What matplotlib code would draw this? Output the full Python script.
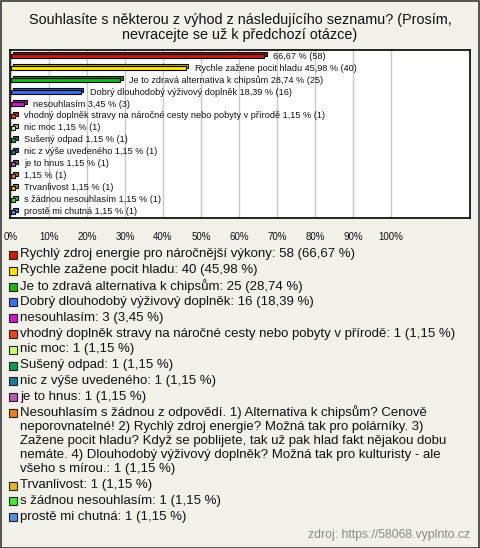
import textwrap
import matplotlib
matplotlib.use("Agg")
import matplotlib.pyplot as plt
from matplotlib.patches import Rectangle
import matplotlib.transforms as mtransforms
import matplotlib.colors as mcolors

plt.rcParams['font.family'] = ['Liberation Sans', 'DejaVu Sans']

title = "Souhlasíte s některou z výhod z následujícího seznamu? (Prosím,\nnevracejte se už k předchozí otázce)"
categories = [
    "Rychlý zdroj energie pro náročnější výkony",
    "Rychle zažene pocit hladu",
    "Je to zdravá alternativa k chipsům",
    "Dobrý dlouhodobý výživový doplněk",
    "nesouhlasím",
    "vhodný doplněk stravy na náročné cesty nebo pobyty v přírodě",
    "nic moc",
    "Sušený odpad",
    "nic z výše uvedeného",
    "je to hnus",
    "Nesouhlasím s žádnou z odpovědí. 1) Alternativa k chipsům? Cenově neporovnatelné! 2) Rychlý zdroj energie? Možná tak pro polárníky. 3) Zažene pocit hladu? Když se poblijete, tak už pak hlad fakt nějakou dobu nemáte. 4) Dlouhodobý výživový doplněk? Možná tak pro kulturisty - ale všeho s mírou.",
    "Trvanlivost",
    "s žádnou nesouhlasím",
    "prostě mi chutná",
]
counts = [58, 40, 25, 16, 3, 1, 1, 1, 1, 1, 1, 1, 1, 1]
percents = [66.67, 45.98, 28.74, 18.39, 3.45, 1.15, 1.15, 1.15, 1.15, 1.15, 1.15, 1.15, 1.15, 1.15]
colors = ["#c41e0c", "#ffe600", "#1eb41e", "#3c6ee6", "#c81ec8", "#e6461e",
          "#c8ff78", "#14965a", "#1e7896", "#b45ab4", "#e6821e", "#e6b41e",
          "#46e632", "#5a8cdc"]
xticks = [0, 10, 20, 30, 40, 50, 60, 70, 80, 90, 100]
source = "zdroj: https://58068.vyplnto.cz"

W, H = 480, 548
bg = "#f2f1e9"
fig = plt.figure(figsize=(W / 100, H / 100), dpi=100, facecolor=bg)
fig.patches.append(Rectangle((0.5 / W, 0.5 / H), 1 - 1.5 / W, 1 - 1.5 / H, transform=fig.transFigure,
                             fill=False, edgecolor="#3a3a3a", lw=1.2))

def fx(px):
    return px / W

def fy(py):
    return 1 - py / H

fig.text(0.5, fy(27.5), title, ha="center", va="center", fontsize=10.4, color="#111", linespacing=1.15)

ax = fig.add_axes([fx(10), fy(218), fx(460), 168 / H])
ax.set_facecolor("white")
n = len(categories)
ypos = list(range(n))
ax.set_xlim(-0.26, 120.8)
ax.set_ylim(n - 0.5, -0.5)

dark = [tuple(c * 0.78 for c in mcolors.to_rgb(c)) for c in colors]
off = mtransforms.offset_copy(ax.transData, fig=fig, x=2.5, y=2, units="dots")
ax.barh(ypos, percents, height=0.38, color=dark, edgecolor="black", linewidth=0.8,
        transform=off, zorder=3)
ax.barh(ypos, percents, height=0.38, color=colors, edgecolor="black", linewidth=0.8, zorder=4)

ax.set_xticks(xticks)
ax.set_xticklabels([f"{v}%" for v in xticks], fontsize=7, color="#111")
ax.tick_params(axis="x", length=0, pad=10)
ax.set_yticks([])
ax.grid(axis="x", color="#c8c8c8", lw=1, zorder=0)
ax.set_axisbelow(True)
for s in ax.spines.values():
    s.set_color("black")
    s.set_linewidth(1.2)

def fmt(v):
    return f"{v:.2f}".replace(".", ",")

renderer = fig.canvas.get_renderer()
ax_right = ax.get_window_extent(renderer).x1
for i, (cat, c, p) in enumerate(zip(categories, counts, percents)):
    full = f"{cat} {fmt(p)} % ({c})"
    t = ax.annotate(full, (p, i), xytext=(9, 0), textcoords="offset pixels",
                    va="center", ha="left", fontsize=6.6, color="#111", zorder=5)
    bb = t.get_window_extent(renderer)
    if bb.x1 > ax_right - 2:
        t.set_text(f"{fmt(p)} % ({c})")

# legend
y = 254.5
for cat, c, p, col in zip(categories, counts, percents, colors):
    text = f"{cat}: {c} ({fmt(p)} %)"
    lines = textwrap.wrap(text, 72)
    fig.patches.append(Rectangle((fx(9), fy(y + 4.5)), 8 / W, 8 / H, transform=fig.transFigure,
                                 facecolor=col, edgecolor="#222", lw=0.8))
    for k, line in enumerate(lines):
        fig.text(fx(20), fy(y + k * 14.2), line, ha="left", va="center", fontsize=9.5, color="#111")
    y += 15.8 + (len(lines) - 1) * 14.2

fig.text(fx(470), fy(535), source, ha="right", va="center", fontsize=8.8, color="#888")

fig.savefig("out.png", dpi=100, facecolor=bg)
